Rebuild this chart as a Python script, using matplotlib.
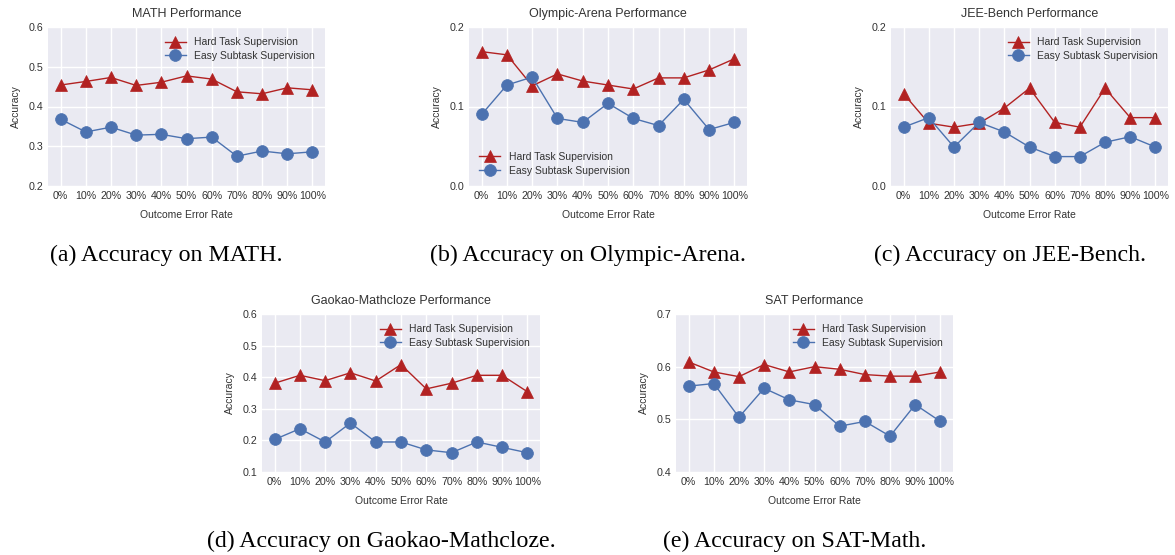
import matplotlib
matplotlib.use("Agg")
import matplotlib.pyplot as plt
import numpy as np

rates = ["0%", "10%", "20%", "30%", "40%", "50%", "60%", "70%", "80%", "90%", "100%"]

math_hard = [0.454, 0.463, 0.473, 0.453, 0.461, 0.477, 0.469, 0.437, 0.432, 0.447, 0.442]
math_easy = [0.368, 0.336, 0.348, 0.328, 0.330, 0.319, 0.323, 0.275, 0.288, 0.281, 0.286]

oly_hard = [0.169, 0.165, 0.126, 0.141, 0.132, 0.127, 0.122, 0.136, 0.136, 0.146, 0.160]
oly_easy = [0.090, 0.127, 0.137, 0.085, 0.080, 0.104, 0.085, 0.076, 0.109, 0.071, 0.080]

jee_hard = [0.116, 0.079, 0.074, 0.079, 0.098, 0.123, 0.080, 0.074, 0.123, 0.086, 0.086]
jee_easy = [0.074, 0.086, 0.049, 0.080, 0.068, 0.049, 0.037, 0.037, 0.055, 0.062, 0.049]

gk_hard = [0.381, 0.406, 0.389, 0.414, 0.388, 0.440, 0.363, 0.381, 0.406, 0.406, 0.354]
gk_easy = [0.203, 0.237, 0.195, 0.255, 0.195, 0.195, 0.170, 0.161, 0.195, 0.178, 0.161]

sat_hard = [0.609, 0.590, 0.581, 0.604, 0.590, 0.600, 0.595, 0.585, 0.582, 0.582, 0.590]
sat_easy = [0.563, 0.568, 0.504, 0.559, 0.537, 0.528, 0.487, 0.496, 0.468, 0.528, 0.496]

titles = ["MATH Performance", "Olympic-Arena Performance", "JEE-Bench Performance",
          "Gaokao-Mathcloze Performance", "SAT Performance"]
captions = ["(a) Accuracy on MATH.", "(b) Accuracy on Olympic-Arena.", "(c) Accuracy on JEE-Bench.",
            "(d) Accuracy on Gaokao-Mathcloze.", "(e) Accuracy on SAT-Math."]
yticks = [[0.2, 0.3, 0.4, 0.5, 0.6], [0.0, 0.1, 0.2], [0.0, 0.1, 0.2],
          [0.1, 0.2, 0.3, 0.4, 0.5, 0.6], [0.4, 0.5, 0.6, 0.7]]
ytick_labels = [["0.2", "0.3", "0.4", "0.5", "0.6"], ["0.0", "0.1", "0.2"], ["0.0", "0.1", "0.2"],
                ["0.1", "0.2", "0.3", "0.4", "0.5", "0.6"], ["0.4", "0.5", "0.6", "0.7"]]
hards = [math_hard, oly_hard, jee_hard, gk_hard, sat_hard]
easys = [math_easy, oly_easy, jee_easy, gk_easy, sat_easy]
legend_locs = ["upper right", "lower left", "upper right", "upper right", "upper right"]

plt.rcParams["font.family"] = ["Liberation Sans", "DejaVu Sans"]

W, H = 1175, 555
fig = plt.figure(figsize=(W / 100, H / 100), dpi=100)

# axes boxes in pixel coords: left, top, right, bottom
boxes = [(48, 27, 325, 186), (469, 27, 747, 186), (891, 27, 1168, 186),
         (262, 314, 540, 472), (676, 314, 953, 472)]
cap_pos = [(166, 255), (588, 255), (1010, 255), (381, 541), (795, 541)]

red = "#B22222"
blue = "#4C72B0"
text_col = "#333333"

for i in range(5):
    l, t, r, b = boxes[i]
    ax = fig.add_axes([l / W, 1 - b / H, (r - l) / W, (b - t) / H])
    ax.set_facecolor("#EAEAF2")
    for s in ax.spines.values():
        s.set_visible(False)
    ax.grid(True, color="white", linewidth=1.0)
    ax.set_axisbelow(True)
    x = np.arange(len(rates))
    ax.plot(x, hards[i], color=red, marker="^", markersize=8, linewidth=1.0,
            markeredgecolor=red, markeredgewidth=0.5, label="Hard Task Supervision")
    ax.plot(x, easys[i], color=blue, marker="o", markersize=8.5, linewidth=1.0,
            markeredgecolor=blue, markeredgewidth=0.5, label="Easy Subtask Supervision")
    ax.set_xlim(-0.5, 10.5)
    ax.set_xticks(x)
    ax.set_xticklabels(rates)
    ax.set_ylim(yticks[i][0], yticks[i][-1])
    ax.set_yticks(yticks[i])
    ax.set_yticklabels(ytick_labels[i])
    ax.tick_params(axis="both", length=0, labelsize=7.7, colors=text_col, pad=3.5)
    ax.set_title(titles[i], fontsize=9, color=text_col, pad=7.5)
    ax.set_xlabel("Outcome Error Rate", fontsize=7.5, color=text_col, labelpad=6.5)
    ax.set_ylabel("Accuracy", fontsize=7.5, color=text_col, labelpad=5.5)
    leg = ax.legend(loc=legend_locs[i], frameon=False, fontsize=7.5, handlelength=2.0,
                    handletextpad=0.8, labelspacing=0.35, borderaxespad=0.6)
    for txt in leg.get_texts():
        txt.set_color(text_col)
    cx, cy = cap_pos[i]
    fig.text(cx / W, 1 - cy / H, captions[i], ha="center", va="center",
             fontsize=17.2, family=["Liberation Serif", "DejaVu Serif"], color="black")

fig.savefig("out.png", dpi=100)
